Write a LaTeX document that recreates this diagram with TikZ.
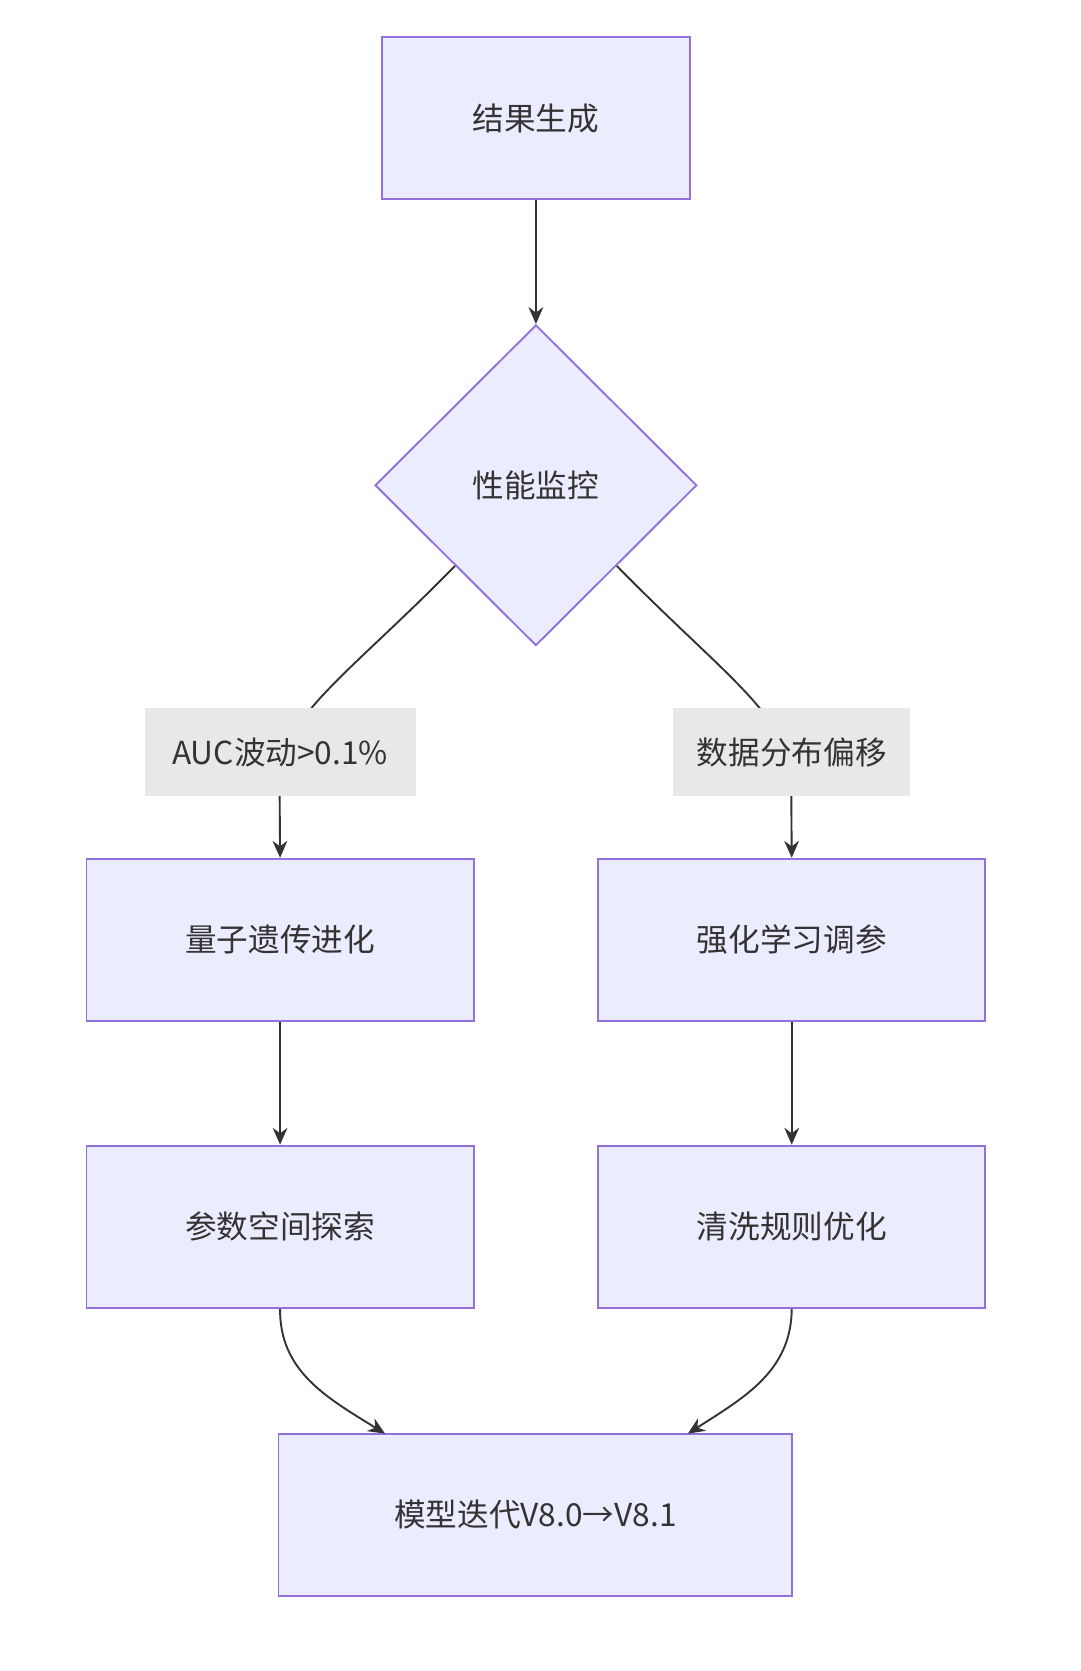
\documentclass[tikz,border=0pt]{standalone}
\usepackage{fontspec}
\setmainfont{Noto Sans CJK SC}
\usetikzlibrary{shapes.geometric,arrows.meta}
\definecolor{nfill}{HTML}{ECECFF}
\definecolor{ndraw}{HTML}{9370DB}
\definecolor{lbg}{HTML}{E8E8E8}
\definecolor{ln}{HTML}{333333}
\begin{document}
\begin{tikzpicture}[x=1pt,y=-1pt,
  box/.style={draw=ndraw,fill=nfill,line width=1.8pt,minimum width=367pt,minimum height=154pt,font=\fontsize{30}{36}\selectfont,text=ln},
  lab/.style={fill=lbg,inner sep=0pt,minimum height=83pt,font=\fontsize{30}{36}\selectfont,text=ln},
  arr/.style={draw=ln,line width=1.8pt,-{Stealth[length=16pt,width=14pt]}}]
\useasboundingbox (0,0) rectangle (1024,1584);
\node[box,minimum width=292pt] (top) at (508,112) {结果生成};
\node[draw=ndraw,fill=nfill,line width=1.8pt,diamond,aspect=1,minimum width=305pt,minimum height=304pt,inner sep=0pt,font=\fontsize{30}{36}\selectfont,text=ln] (dia) at (508,460) {性能监控};
\node[box] (q) at (265.5,891) {量子遗传进化};
\node[box] (r) at (750.5,891) {强化学习调参};
\node[box] (p) at (265.5,1163) {参数空间探索};
\node[box] (c) at (750.5,1163) {清洗规则优化};
\node[box,minimum width=487pt] (m) at (507.5,1436) {模型迭代V8.0→V8.1};
\coordinate (mL) at (365,1359);
\coordinate (mR) at (652,1359);
\draw[arr] (top) -- (dia.north);
\draw[arr] (dia.south west) .. controls (330,640) and (265,680) .. (265,740) -- (q.north);
\draw[arr] (dia.south east) .. controls (686,640) and (750,680) .. (750,740) -- (r.north);
\node[lab,minimum width=257pt] (la) at (265.5,713) {AUC波动>0.1\%};
\node[lab,minimum width=225pt] (lb) at (750.5,713) {数据分布偏移};
\draw[arr] (q) -- (p);
\draw[arr] (r) -- (c);
\draw[arr] (p.south) .. controls (265,1300) and (310,1325) .. (mL);
\draw[arr] (c.south) .. controls (750,1300) and (705,1325) .. (mR);
\end{tikzpicture}
\end{document}
